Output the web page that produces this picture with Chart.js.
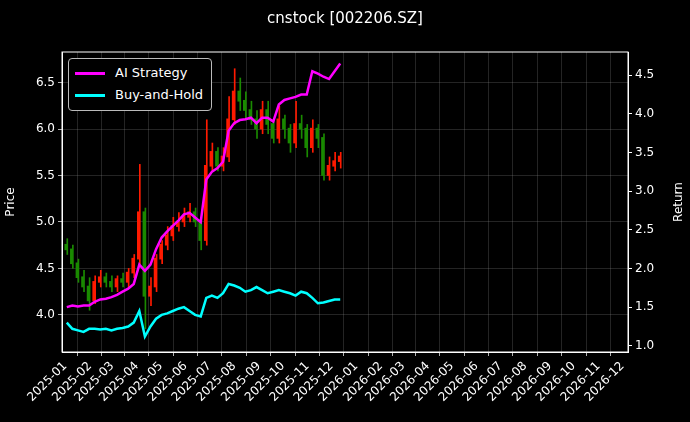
<!DOCTYPE html>
<html>
<head>
<meta charset="utf-8">
<script src="https://cdn.jsdelivr.net/npm/chart.js@4"></script>
<style>
  html, body { margin: 0; padding: 0; background: #000; }
  #wrap { position: relative; width: 690px; height: 422px; }
  #title { position: absolute; top: 9px; left: 0; width: 690px; text-align: center;
    color: #fff; font: 15px "DejaVu Sans", sans-serif; }
  #legend { position: absolute; left: 68px; top: 58px; padding: 3px 8px 4px 6px;
    border: 1px solid #bbb; border-radius: 4px; background: #000;
    color: #fff; font: 13px "DejaVu Sans", sans-serif; line-height: 22px; }
  #legend span.sw { display: inline-block; width: 30px; height: 3px; vertical-align: middle; margin-right: 10px; }
</style>
</head>
<body>
<div id="wrap">
  <canvas id="c" width="690" height="422"></canvas>
  <div id="title">cnstock [002206.SZ]</div>
  <div id="legend">
    <div><span class="sw" style="background:#ff00ff"></span>AI Strategy</div>
    <div><span class="sw" style="background:#00ffff"></span>Buy-and-Hold</div>
  </div>
</div>
<script>
// weekly samples, day offsets from 2025-01-01
const weekDays = Array.from({ length: 50 }, (_, i) => 2 + 7 * i);
const opens  = [4.75,4.70,4.55,4.40,4.30,4.15,4.35,4.40,4.35,4.30,4.38,4.35,4.45,4.60,5.10,4.20,4.30,4.60,4.75,4.85,4.95,5.00,5.05,5.10,5.00,4.80,5.60,5.75,5.60,5.70,6.10,6.40,6.30,6.20,6.10,6.00,6.20,6.05,5.90,6.10,6.00,5.85,6.05,6.00,5.80,6.00,5.90,5.50,5.60,5.65];
const closes = [4.70,4.55,4.40,4.30,4.15,4.35,4.40,4.35,4.30,4.38,4.35,4.45,4.60,5.10,4.20,4.30,4.60,4.75,4.85,4.95,5.00,5.05,5.10,5.00,4.80,5.60,5.75,5.60,5.70,6.10,6.40,6.30,6.20,6.10,6.00,6.20,6.05,5.90,6.10,6.00,5.85,6.05,6.00,5.80,6.00,5.90,5.50,5.60,5.65,5.70];
const highs  = [4.82,4.75,4.60,4.48,4.40,4.42,4.48,4.45,4.42,4.42,4.45,4.50,4.65,5.62,5.15,4.40,4.65,4.80,4.95,5.05,5.10,5.15,5.20,5.15,5.05,6.10,5.85,5.80,5.80,6.35,6.65,6.55,6.40,6.30,6.20,6.30,6.30,6.10,6.25,6.15,6.05,6.30,6.15,6.05,6.10,6.05,5.95,5.70,5.75,5.75];
const lows   = [4.65,4.50,4.35,4.25,4.05,4.12,4.30,4.30,4.25,4.25,4.30,4.30,4.40,4.55,3.85,4.10,4.25,4.55,4.70,4.80,4.90,4.95,5.00,4.95,4.70,4.75,5.55,5.55,5.55,5.65,6.05,6.20,6.10,6.05,5.90,5.95,5.95,5.85,5.85,5.90,5.75,5.80,5.90,5.70,5.75,5.80,5.45,5.45,5.55,5.58];
const aiReturn = [1.50,1.52,1.51,1.52,1.52,1.57,1.60,1.61,1.63,1.66,1.70,1.74,1.80,2.05,1.97,2.05,2.25,2.40,2.48,2.55,2.62,2.70,2.72,2.66,2.60,3.15,3.25,3.30,3.38,3.78,3.88,3.92,3.93,3.95,3.88,3.95,3.95,3.90,4.12,4.18,4.20,4.22,4.25,4.25,4.55,4.52,4.48,4.45,4.55,4.65];
const bhReturn = [1.30,1.22,1.20,1.18,1.22,1.22,1.21,1.22,1.20,1.22,1.23,1.25,1.30,1.45,1.12,1.25,1.35,1.40,1.42,1.45,1.48,1.50,1.45,1.40,1.38,1.62,1.65,1.62,1.68,1.80,1.78,1.75,1.70,1.72,1.76,1.72,1.68,1.70,1.72,1.70,1.68,1.65,1.70,1.68,1.62,1.55,1.56,1.58,1.60,1.60];
const monthLabels = ['2025-01','2025-02','2025-03','2025-04','2025-05','2025-06','2025-07','2025-08','2025-09','2025-10','2025-11','2025-12',
  '2026-01','2026-02','2026-03','2026-04','2026-05','2026-06','2026-07','2026-08','2026-09','2026-10','2026-11','2026-12'];

const DAY = 86400000;
const base = Date.UTC(2025, 0, 1);
const monthDays = monthLabels.map(m => {
  const [y, mo] = m.split('-').map(Number);
  return (Date.UTC(y, mo - 1, 1) - base) / DAY;
});

const candleColor = weekDays.map((_, i) => closes[i] >= opens[i] ? '#ff1a00' : '#1a8a00');
const wickData = weekDays.map((d, i) => ({ x: d, y: [lows[i], highs[i]] }));
const bodyData = weekDays.map((d, i) => ({ x: d, y: [Math.min(opens[i], closes[i]), Math.max(opens[i], closes[i]) + 0.01] }));

const font = { family: 'DejaVu Sans', size: 12 };
const gridStyle = { color: 'rgba(150,150,150,0.35)', borderDash: [3, 3], lineWidth: 0.7 };

new Chart(document.getElementById('c'), {
  data: {
    datasets: [
      { type: 'line', label: 'AI Strategy', data: weekDays.map((d, i) => ({ x: d, y: aiReturn[i] })),
        yAxisID: 'y2', borderColor: '#ff00ff', borderWidth: 2.5, pointRadius: 0, tension: 0, order: 1 },
      { type: 'line', label: 'Buy-and-Hold', data: weekDays.map((d, i) => ({ x: d, y: bhReturn[i] })),
        yAxisID: 'y2', borderColor: '#00ffff', borderWidth: 2.5, pointRadius: 0, tension: 0, order: 2 },
      { type: 'bar', data: bodyData, yAxisID: 'y', backgroundColor: candleColor, barThickness: 2, order: 3 },
      { type: 'bar', data: wickData, yAxisID: 'y', backgroundColor: candleColor, barThickness: 1, order: 4 }
    ]
  },
  options: {
    responsive: false,
    animation: false,
    layout: { padding: { top: 52, left: 0, right: 0, bottom: 0 } },
    plugins: { legend: { display: false }, tooltip: { enabled: false } },
    scales: {
      x: {
        type: 'linear', min: -4, max: 706, offset: false,
        afterBuildTicks: s => { s.ticks = monthDays.map(v => ({ value: v })); },
        afterFit: s => { s.height = 70; },
        ticks: { color: '#fff', font, autoSkip: false, maxRotation: 45, minRotation: 45,
          callback: (v, i) => monthLabels[i] },
        grid: { ...gridStyle, drawTicks: true, tickColor: '#fff', tickLength: 4 },
        border: { color: '#fff', display: true }
      },
      y: {
        position: 'left', min: 3.6, max: 6.83,
        afterBuildTicks: s => { s.ticks = [4.0, 4.5, 5.0, 5.5, 6.0, 6.5].map(v => ({ value: v })); },
        afterFit: s => { s.width = 62; },
        ticks: { color: '#fff', font, callback: v => v.toFixed(1) },
        title: { display: true, text: 'Price', color: '#fff', font },
        grid: { ...gridStyle, tickColor: '#fff', tickLength: 4 },
        border: { color: '#fff' }
      },
      y2: {
        position: 'right', min: 0.92, max: 4.8,
        afterBuildTicks: s => { s.ticks = [1.0, 1.5, 2.0, 2.5, 3.0, 3.5, 4.0, 4.5].map(v => ({ value: v })); },
        afterFit: s => { s.width = 62; },
        ticks: { color: '#fff', font, callback: v => v.toFixed(1) },
        grid: { drawOnChartArea: false, tickColor: '#fff', tickLength: 4 },
        border: { color: '#fff' }
      }
    }
  },
  plugins: [{
    id: 'frame',
    afterDraw(chart) {
      const { ctx, chartArea: a } = chart;
      ctx.save();
      ctx.strokeStyle = '#fff';
      ctx.lineWidth = 1;
      ctx.strokeRect(a.left, a.top, a.right - a.left, a.bottom - a.top);
      // right axis title, reading bottom-to-top like the left one
      ctx.translate(679, (a.top + a.bottom) / 2);
      ctx.rotate(-Math.PI / 2);
      ctx.fillStyle = '#fff';
      ctx.font = '12px "DejaVu Sans"';
      ctx.textAlign = 'center';
      ctx.textBaseline = 'middle';
      ctx.fillText('Return', 0, 0);
      ctx.restore();
    }
  }]
});
</script>
</body>
</html>
